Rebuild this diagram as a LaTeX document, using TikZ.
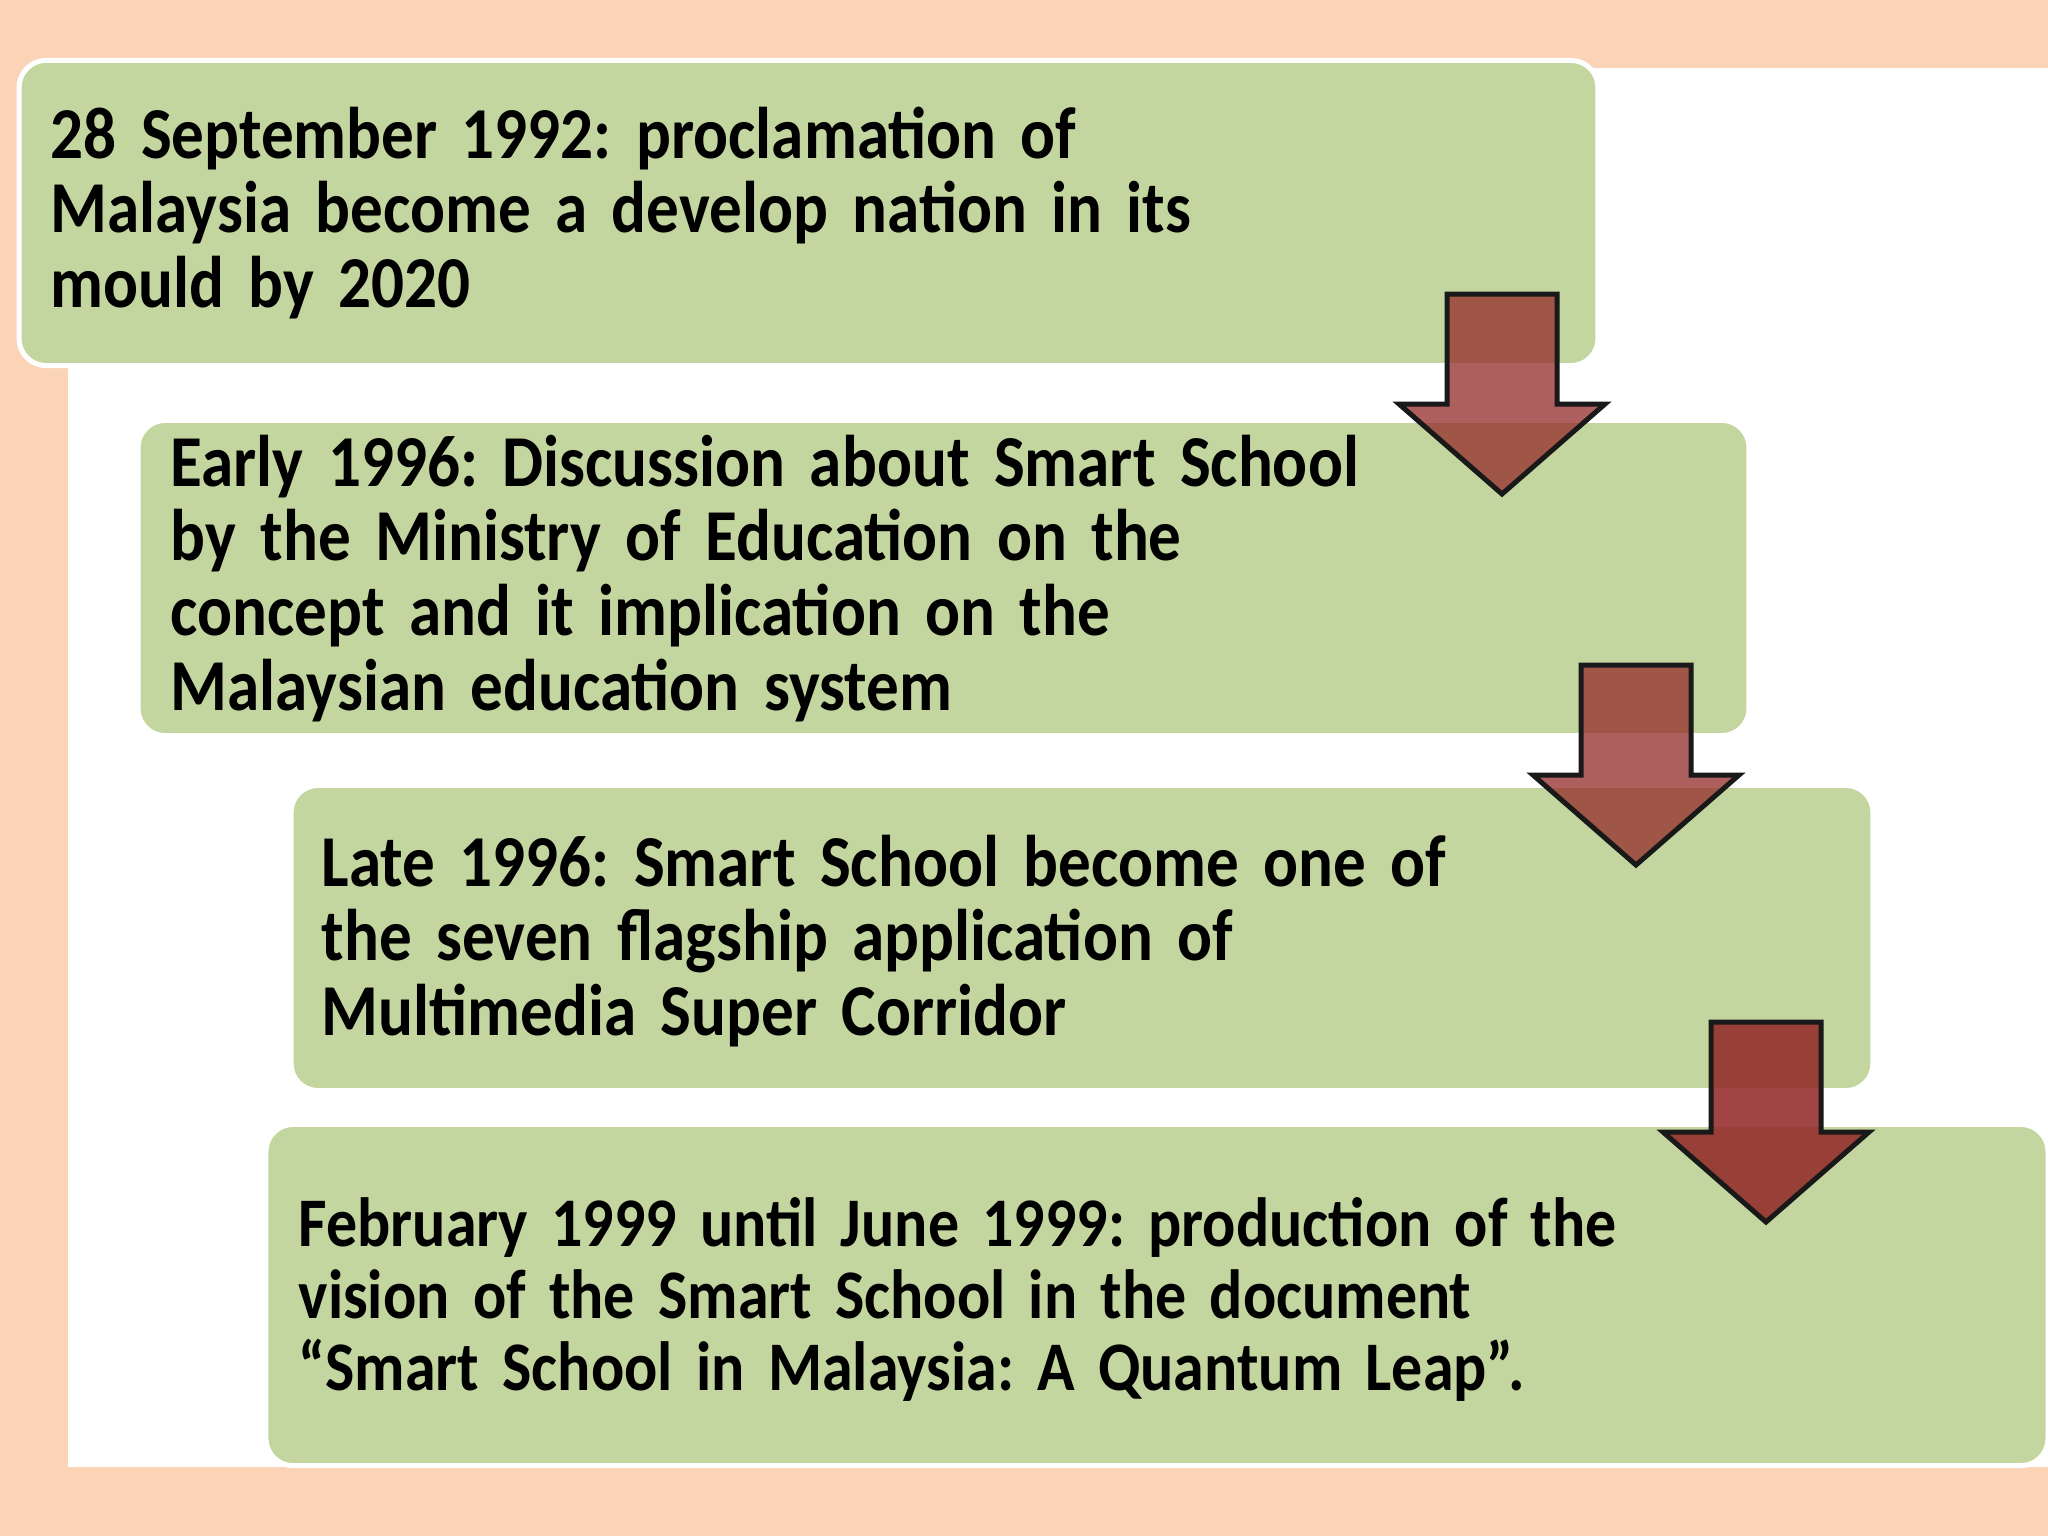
\documentclass[tikz,border=0pt]{standalone}
\usepackage{fontspec}
\setmainfont{Carlito}[FakeStretch=0.89]
\frenchspacing
\definecolor{peach}{HTML}{FBD4B8}
\definecolor{boxgreen}{HTML}{C4D6A0}
\definecolor{arrowred}{HTML}{932C2A}
\tikzset{
  stagebox/.style={draw=white, line width=0.05cm, fill=boxgreen, rounded corners=0.27cm, inner sep=0pt},
  stagetext/.style={anchor=base west, inner sep=0pt, text width=15cm, align=left,
    font=\fontsize{20.8pt}{21.3pt}\selectfont\bfseries},
  pics/blockarrow/.style={code={
    \path[fill=arrowred, fill opacity=#1, draw=black!90, draw opacity=1, line width=0.05cm, line join=miter]
      (-55,0) -- (55,0) -- (55,110) -- (103,110) -- (0,200) -- (-103,110) -- (-55,110) -- cycle;
  }}
}
\begin{document}
\begin{tikzpicture}[x=0.01cm,y=-0.01cm]
\useasboundingbox (0,0) rectangle (2048,1536);
\fill[peach] (0,0) rectangle (2048,1536);
\fill[white] (68,68) rectangle (2048,1467);
\node[stagebox, minimum width=15.78cm, minimum height=3.05cm] (b1) at (808.5,213) {};
\node[stagebox, minimum width=16.10cm, minimum height=3.15cm] (b2) at (943.5,578) {};
\node[stagebox, minimum width=15.81cm, minimum height=3.05cm] (b3) at (1082,938) {};
\node[stagebox, minimum width=17.81cm, minimum height=3.41cm] (b4) at (1157,1295) {};
\node[stagetext] (t1) at (50,158) {28 September 1992: proclamation of\\Malaysia become a develop nation in its\\mould by 2020};
\node[stagetext] (t2) at (170,486) {Early 1996: Discussion about Smart School\\by the Ministry of Education on the\\concept and it implication on the\\Malaysian education system};
\node[stagetext] (t3) at (321,886) {Late 1996: Smart School become one of\\the seven flagship application of\\Multimedia Super Corridor};
\node[stagetext, font=\fontsize{19.8pt}{20.5pt}\selectfont\bfseries] (t4) at (298,1246) {February 1999 until June 1999: production of the\\vision of the Smart School in the document\\``Smart School in Malaysia: A Quantum Leap''.};
\pic at (1502,294) {blockarrow=0.75};
\pic at (1636,665) {blockarrow=0.75};
\pic at (1766,1022) {blockarrow=0.88};
\end{tikzpicture}
\end{document}
